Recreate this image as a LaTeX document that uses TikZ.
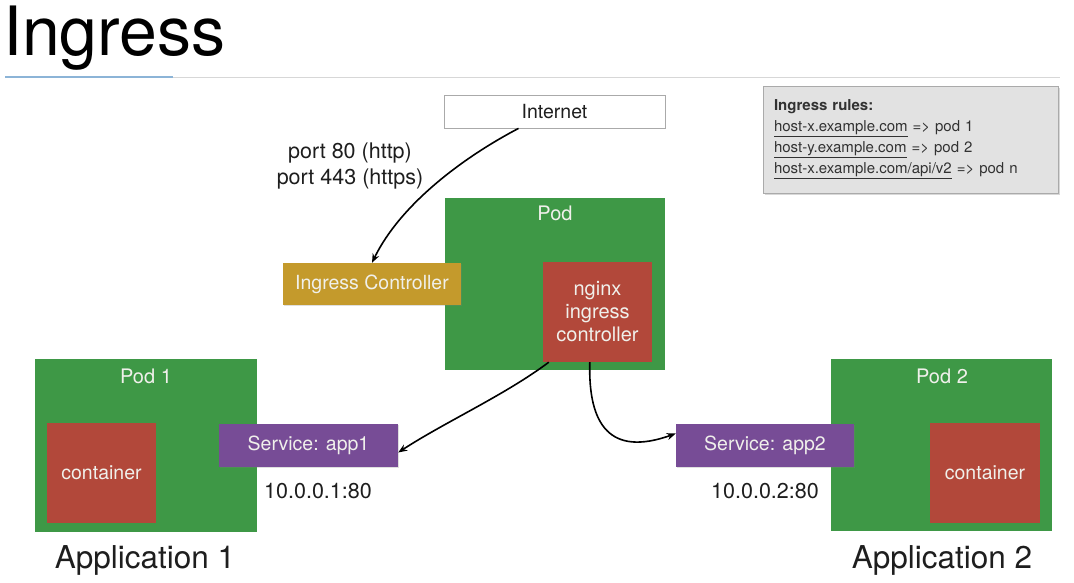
\documentclass[tikz,border=0pt]{standalone}
\usepackage{fontspec}
\setmainfont{TeX Gyre Heros}
\usetikzlibrary{arrows.meta,shadows}
\definecolor{podgreen}{RGB}{62,152,70}
\definecolor{ctred}{RGB}{178,72,58}
\definecolor{ingold}{RGB}{196,154,44}
\definecolor{svcpurple}{RGB}{119,76,150}
\definecolor{boxtext}{RGB}{240,240,235}
\definecolor{rulesfill}{RGB}{226,226,226}
\definecolor{rulesline}{RGB}{170,170,170}
\definecolor{txtdark}{RGB}{30,30,30}
\definecolor{rulestxt}{RGB}{50,50,50}
\definecolor{sepgray}{RGB}{215,215,215}
\definecolor{sepblue}{RGB}{140,180,215}
\tikzset{
  boxbase/.style={rectangle, inner sep=0pt, text=boxtext, font=\fontsize{19.5}{23}\selectfont, align=center},
  podbox/.style={boxbase, fill=podgreen},
  ctbox/.style={boxbase, fill=ctred},
  goldbox/.style={boxbase, fill=ingold, drop shadow={shadow xshift=1pt, shadow yshift=-1pt, opacity=0.25}},
  svcbox/.style={boxbase, fill=svcpurple, drop shadow={shadow xshift=1pt, shadow yshift=-1pt, opacity=0.25}},
  podlabel/.style={text=boxtext, font=\fontsize{20}{23}\selectfont, inner sep=0pt},
  plain/.style={text=txtdark, font=\fontsize{21.5}{26}\selectfont, inner sep=0pt, align=center},
  applabel/.style={text=txtdark, font=\fontsize{31.5}{34}\selectfont, inner sep=0pt},
  conn/.style={-{Stealth[length=9pt,width=7pt]}, line width=1.6pt, black},
}
\begin{document}
\begin{tikzpicture}[x=1pt,y=-1pt]
\useasboundingbox (0,0) rectangle (1074,582);
\fill[white] (0,0) rectangle (1074,582);

% title and separator
\node[anchor=base west, inner sep=0pt, text=black, font=\fontsize{68}{72}\selectfont] (title) at (3,55) {Ingress};
\draw[sepgray, line width=1pt] (5,77) -- (1060,77);
\draw[sepblue, line width=1.2pt] (5,77) -- (173,77);

% internet
\node[rectangle, draw=rulesline, fill=white, line width=0.8pt, minimum width=221pt, minimum height=33pt, inner sep=0pt, text=txtdark, font=\fontsize{19.5}{22}\selectfont] (internet) at (554.5,111.5) {Internet};

% ingress rules box
\node[rectangle, draw=rulesline, fill=rulesfill, line width=0.6pt, minimum width=295pt, minimum height=107pt, text width=273pt, inner xsep=11pt, inner ysep=0pt, align=left, text=rulestxt, font=\fontsize{15}{21}\selectfont, drop shadow={shadow xshift=1.5pt, shadow yshift=-1.5pt, opacity=0.3}] (rules) at (910.5,139.5)
{\textbf{Ingress rules:}\\
\underline{host-x.example.com} => pod 1\\
\underline{host-y.example.com} => pod 2\\
\underline{host-x.example.com/api/v2} => pod n};

% port label
\node[plain] (ports) at (350,166) {port 80 (http)\\port 443 (https)};

% central pod
\node[podbox, minimum width=220pt, minimum height=172pt] (pod) at (555,284) {};
\node[podlabel] (podlbl) at (555,213) {Pod};
\node[ctbox, minimum width=109pt, minimum height=100pt, font=\fontsize{20}{23}\selectfont] (nginx) at (597.5,312) {nginx\\ingress\\controller};
\node[goldbox, minimum width=178pt, minimum height=42pt] (ictrl) at (372,284) {Ingress Controller};

% pod 1
\node[podbox, minimum width=222pt, minimum height=173pt] (pod1) at (146,445.5) {};
\node[podlabel] (pod1lbl) at (146,376) {Pod 1};
\node[ctbox, minimum width=109pt, minimum height=100pt] (ct1) at (101.5,473) {container};
\node[svcbox, minimum width=179pt, minimum height=43pt] (svc1) at (308.5,445.5) {Service: app1};
\node[plain] (ip1) at (318,491) {10.0.0.1:80};
\node[applabel] (app1) at (145,560) {Application 1};

% pod 2
\node[podbox, minimum width=221pt, minimum height=172pt] (pod2) at (941.5,445) {};
\node[podlabel] (pod2lbl) at (942,376) {Pod 2};
\node[ctbox, minimum width=110pt, minimum height=100pt] (ct2) at (985,473) {container};
\node[svcbox, minimum width=178pt, minimum height=43pt] (svc2) at (765,445.5) {Service: app2};
\node[plain] (ip2) at (765,491) {10.0.0.2:80};
\node[applabel] (app2) at (942,560) {Application 2};

% connectors
\draw[conn] (internet.south) ++(-36,0) coordinate (inA)
  .. controls (462,158) and (400,205) .. (ictrl.north);
\draw[conn] (nginx.south west) ++(6,0) coordinate (ngA)
  .. controls (505,395) and (445,422) .. ([yshift=-7pt]svc1.east);
\draw[conn] (nginx.south west) ++(47,0) coordinate (ngB)
  .. controls (588,425) and (610,457) .. ([yshift=12pt]svc2.west);
\end{tikzpicture}
\end{document}
